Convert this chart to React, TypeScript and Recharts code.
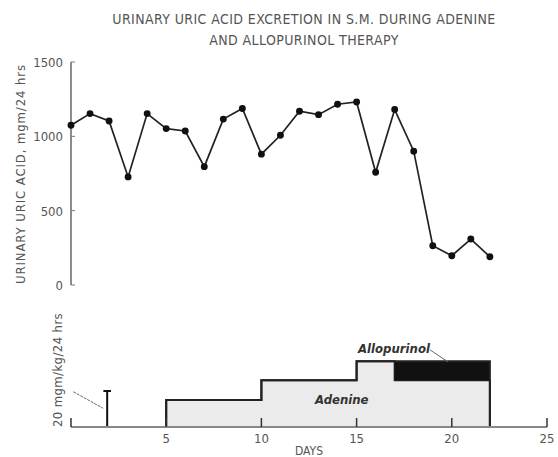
import {
  LineChart,
  Line,
  ComposedChart,
  Area,
  XAxis,
  YAxis,
  ReferenceLine,
} from 'recharts';

// urinary uric acid, mgm/24 hrs, one point per day (day 0..22)
const days = [0, 1, 2, 3, 4, 5, 6, 7, 8, 9, 10, 11, 12, 13, 14, 15, 16, 17, 18, 19, 20, 21, 22];
const uricAcid = [
  1075, 1153, 1103, 727, 1153, 1052, 1036, 796, 1116, 1187, 880, 1007,
  1169, 1146, 1216, 1231, 758, 1180, 900, 264, 197, 309, 190,
];
const yTicks = [0, 500, 1000, 1500];
const dayTicks = [0, 5, 10, 15, 20, 25];

// dose steps, mgm/kg/24 hrs (stepAfter)
const doseDays = [5, 5, 10, 15, 17, 22, 22];
const adenine = [0, 15, 26, 36.5, 26, 26, 0];
const allopurinol = [0, 0, 0, 0, 10.5, 10.5, 0];

// 20 mgm/kg/24 hrs scale bar
const scaleBarDay = 1.9;
const scaleBarValue = 20;

const FONT = "'Liberation Sans Narrow', 'DejaVu Sans Condensed', 'Liberation Sans', sans-serif";
const INK = '#555';

const uricData = days.map((d, i) => ({ day: d, value: uricAcid[i] }));
const doseData = doseDays.map((d, i) => ({
  day: d,
  adenine: adenine[i],
  allopurinol: allopurinol[i],
}));

const YTick = (props: any) => {
  const { x, y, payload } = props;
  return (
    <g>
      <line x1={x + 8} x2={x + 12} y1={y} y2={y} stroke="#777" />
      <text x={x} y={y} dy={5} textAnchor="end" fill={INK} fontSize={13} fontFamily={FONT}>
        {payload.value}
      </text>
    </g>
  );
};

const DayTick = (props: any) => {
  const { x, y, payload } = props;
  return (
    <g>
      <line x1={x} x2={x} y1={y - 4} y2={y - 13} stroke="#333" strokeWidth={1.5} />
      {payload.value > 0 && (
        <text x={x} y={y} dy={12} textAnchor="middle" fill={INK} fontSize={13} fontFamily={FONT}>
          {payload.value}
        </text>
      )}
    </g>
  );
};

const abs = (left: number, top: number): React.CSSProperties => ({
  position: 'absolute',
  left,
  top,
  fontFamily: FONT,
  color: INK,
  whiteSpace: 'nowrap',
});

export default function App() {
  return (
    <div style={{ position: 'absolute', left: 0, top: 0, width: 558, height: 457, background: '#fff' }}>
      <div
        style={{
          ...abs(0, 9),
          width: 608,
          textAlign: 'center',
          fontSize: 14,
          letterSpacing: 0.4,
          lineHeight: '21px',
        }}
      >
        URINARY URIC ACID EXCRETION IN S.M. DURING ADENINE
        <br />
        AND ALLOPURINOL THERAPY
      </div>

      <div style={{ position: 'absolute', left: 0, top: 0 }}>
        <LineChart width={558} height={300} data={uricData} margin={{ top: 62, right: 11, bottom: 15, left: 0 }}>
          <XAxis type="number" dataKey="day" domain={[0, 25]} hide />
          <YAxis
            width={71}
            domain={[0, 1500]}
            ticks={yTicks}
            tickSize={0}
            tickMargin={8}
            tickLine={false}
            axisLine={{ stroke: '#666', strokeWidth: 1.5 }}
            tick={<YTick />}
          />
          <Line
            type="linear"
            dataKey="value"
            stroke="#222"
            strokeWidth={1.7}
            dot={{ r: 2.6, fill: '#111', stroke: '#111' }}
            isAnimationActive={false}
          />
        </LineChart>
      </div>

      <div
        style={{
          ...abs(20, 174),
          fontSize: 13,
          letterSpacing: 0.9,
          transform: 'translate(-50%, -50%) rotate(-90deg)',
        }}
      >
        URINARY URIC ACID, mgm/24 hrs
      </div>

      <div style={{ position: 'absolute', left: 0, top: 300 }}>
        <ComposedChart width={558} height={157} data={doseData} margin={{ top: 37, right: 11, bottom: 0, left: 71 }}>
          <XAxis
            type="number"
            dataKey="day"
            domain={[0, 25]}
            ticks={dayTicks}
            height={30}
            tickSize={0}
            tickMargin={4}
            tickLine={false}
            axisLine={{ stroke: '#888', strokeWidth: 2 }}
            tick={<DayTick />}
          />
          <YAxis hide domain={[0, 50]} />
          <Area
            type="stepAfter"
            dataKey="adenine"
            stackId="dose"
            fill="#ebebeb"
            fillOpacity={1}
            stroke="#222"
            strokeWidth={2}
            isAnimationActive={false}
          />
          <Area
            type="stepAfter"
            dataKey="allopurinol"
            stackId="dose"
            fill="#111"
            fillOpacity={1}
            stroke="#222"
            strokeWidth={2}
            isAnimationActive={false}
          />
          <ReferenceLine
            segment={[{ x: 5, y: 0 }, { x: 22, y: 0 }]}
            stroke="#444"
            strokeWidth={2}
            strokeDasharray="2 2"
          />
          <ReferenceLine
            segment={[{ x: scaleBarDay, y: 0 }, { x: scaleBarDay, y: scaleBarValue }]}
            stroke="#111"
            strokeWidth={2}
          />
          <ReferenceLine
            segment={[{ x: scaleBarDay - 0.2, y: scaleBarValue }, { x: scaleBarDay + 0.2, y: scaleBarValue }]}
            stroke="#111"
            strokeWidth={2}
          />
          <ReferenceLine
            segment={[{ x: scaleBarDay - 0.2, y: 0 }, { x: scaleBarDay + 0.2, y: 0 }]}
            stroke="#111"
            strokeWidth={2}
          />
          <ReferenceLine
            segment={[{ x: 0.12, y: 19.6 }, { x: 1.69, y: 10.4 }]}
            stroke="#666"
            strokeWidth={1}
            strokeDasharray="3 1"
          />
          <ReferenceLine
            segment={[{ x: 18.86, y: 42.8 }, { x: 19.8, y: 36.2 }]}
            stroke="#666"
            strokeWidth={1}
          />
        </ComposedChart>
      </div>

      <div
        style={{
          ...abs(57, 370),
          fontSize: 13,
          letterSpacing: 0.4,
          transform: 'translate(-50%, -50%) rotate(-90deg)',
        }}
      >
        20 mgm/kg/24 hrs
      </div>

      <div style={{ ...abs(358, 341), fontSize: 13, fontStyle: 'italic', fontWeight: 'bold', color: '#333' }}>
        Allopurinol
      </div>
      <div style={{ ...abs(315, 392), fontSize: 13, fontStyle: 'italic', fontWeight: 'bold', color: '#333' }}>
        Adenine
      </div>
      <div style={{ ...abs(309, 444), fontSize: 12, transform: 'translateX(-50%)', lineHeight: '14px' }}>
        DAYS
      </div>
    </div>
  );
}
